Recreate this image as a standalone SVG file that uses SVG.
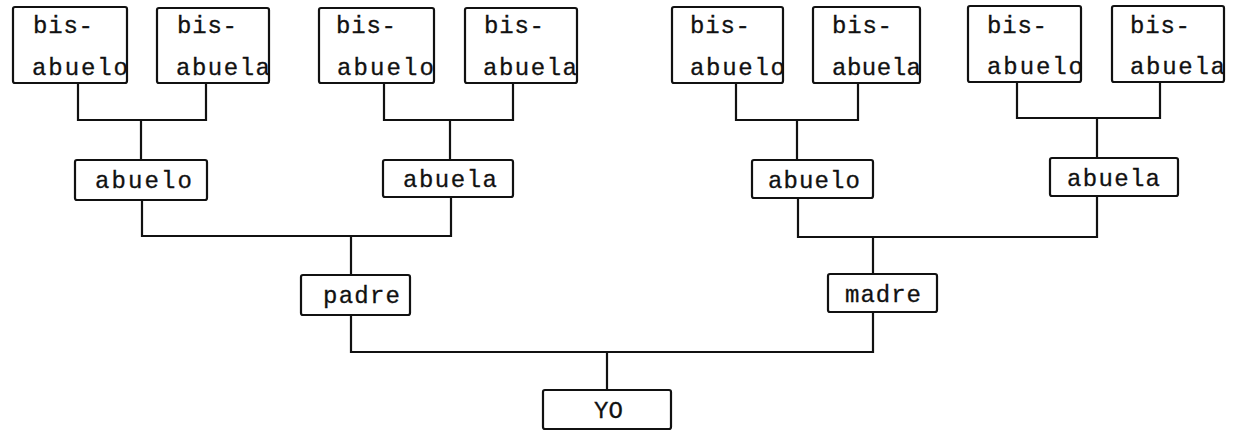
<svg xmlns="http://www.w3.org/2000/svg" width="1237" height="432" viewBox="0 0 1237 432">
<style>
.box{fill:none;stroke:#111;stroke-width:2.2}
.t{font-family:"Liberation Mono","DejaVu Sans Mono",monospace;font-size:24px;fill:#111;stroke:#111;stroke-width:0.3}
.c{fill:none;stroke:#111;stroke-width:2.2}
</style>
<rect width="1237" height="432" fill="#fff"/>
<g id="connectors" class="c">
<path d="M78,83 V120 H206 V83 M141,120 V160"/>
<path d="M384,83 V120 H513 V83 M450,120 V160"/>
<path d="M736,83 V120 H858 V83 M797,120 V160"/>
<path d="M1017,82 V118 H1160 V82 M1097,118 V158"/>
<path d="M142,200 V236 H451 V197 M351,236 V275"/>
<path d="M798,198 V237 H1097 V196 M873,237 V274"/>
<path d="M351,315 V352 H873 V312 M607,352 V390"/>
</g>
<g id="bis1"><text class="t" x="33" y="33" textLength="60" lengthAdjust="spacing">bis-</text><text class="t" x="32" y="75" textLength="96" lengthAdjust="spacing">abuelo</text><rect class="box" x="13" y="7" width="114" height="76" rx="2"/></g>
<g id="bis2"><text class="t" x="177" y="33" textLength="60" lengthAdjust="spacing">bis-</text><text class="t" x="176" y="75" textLength="94" lengthAdjust="spacing">abuela</text><rect class="box" x="157" y="8" width="112" height="75" rx="2"/></g>
<g id="bis3"><text class="t" x="336" y="33" textLength="60" lengthAdjust="spacing">bis-</text><text class="t" x="337" y="75" textLength="97" lengthAdjust="spacing">abuelo</text><rect class="box" x="319" y="8" width="115" height="75" rx="2"/></g>
<g id="bis4"><text class="t" x="484" y="33" textLength="60" lengthAdjust="spacing">bis-</text><text class="t" x="483" y="75" textLength="94" lengthAdjust="spacing">abuela</text><rect class="box" x="465" y="8" width="112" height="75" rx="2"/></g>
<g id="bis5"><text class="t" x="690" y="33" textLength="60" lengthAdjust="spacing">bis-</text><text class="t" x="690" y="75" textLength="95" lengthAdjust="spacing">abuelo</text><rect class="box" x="672" y="7" width="111" height="76" rx="2"/></g>
<g id="bis6"><text class="t" x="832" y="33" textLength="60" lengthAdjust="spacing">bis-</text><text class="t" x="832" y="75" textLength="89" lengthAdjust="spacing">abuela</text><rect class="box" x="813" y="7" width="107" height="76" rx="2"/></g>
<g id="bis7"><text class="t" x="987" y="33" textLength="60" lengthAdjust="spacing">bis-</text><text class="t" x="987" y="74" textLength="96" lengthAdjust="spacing">abuelo</text><rect class="box" x="968" y="6" width="113" height="76" rx="2"/></g>
<g id="bis8"><text class="t" x="1130" y="33" textLength="60" lengthAdjust="spacing">bis-</text><text class="t" x="1130" y="74" textLength="95" lengthAdjust="spacing">abuela</text><rect class="box" x="1112" y="6" width="112" height="76" rx="2"/></g>
<g id="abuelo-p"><rect class="box" x="75" y="160" width="132" height="40" rx="2"/><text class="t" x="95" y="188" textLength="97" lengthAdjust="spacing">abuelo</text></g>
<g id="abuela-p"><rect class="box" x="383" y="160" width="130" height="37" rx="2"/><text class="t" x="403" y="187" textLength="94" lengthAdjust="spacing">abuela</text></g>
<g id="abuelo-m"><rect class="box" x="752" y="160" width="121" height="38" rx="2"/><text class="t" x="768" y="188" textLength="92" lengthAdjust="spacing">abuelo</text></g>
<g id="abuela-m"><rect class="box" x="1050" y="158" width="128" height="38" rx="2"/><text class="t" x="1067" y="186" textLength="93" lengthAdjust="spacing">abuela</text></g>
<g id="padre"><rect class="box" x="301" y="275" width="109" height="40" rx="2"/><text class="t" x="323" y="303" textLength="77" lengthAdjust="spacing">padre</text></g>
<g id="madre"><rect class="box" x="828" y="274" width="109" height="38" rx="2"/><text class="t" x="845" y="302" textLength="76" lengthAdjust="spacing">madre</text></g>
<g id="yo"><rect class="box" x="543" y="390" width="128" height="39" rx="2"/><text class="t" x="594" y="418">YO</text></g>
</svg>
